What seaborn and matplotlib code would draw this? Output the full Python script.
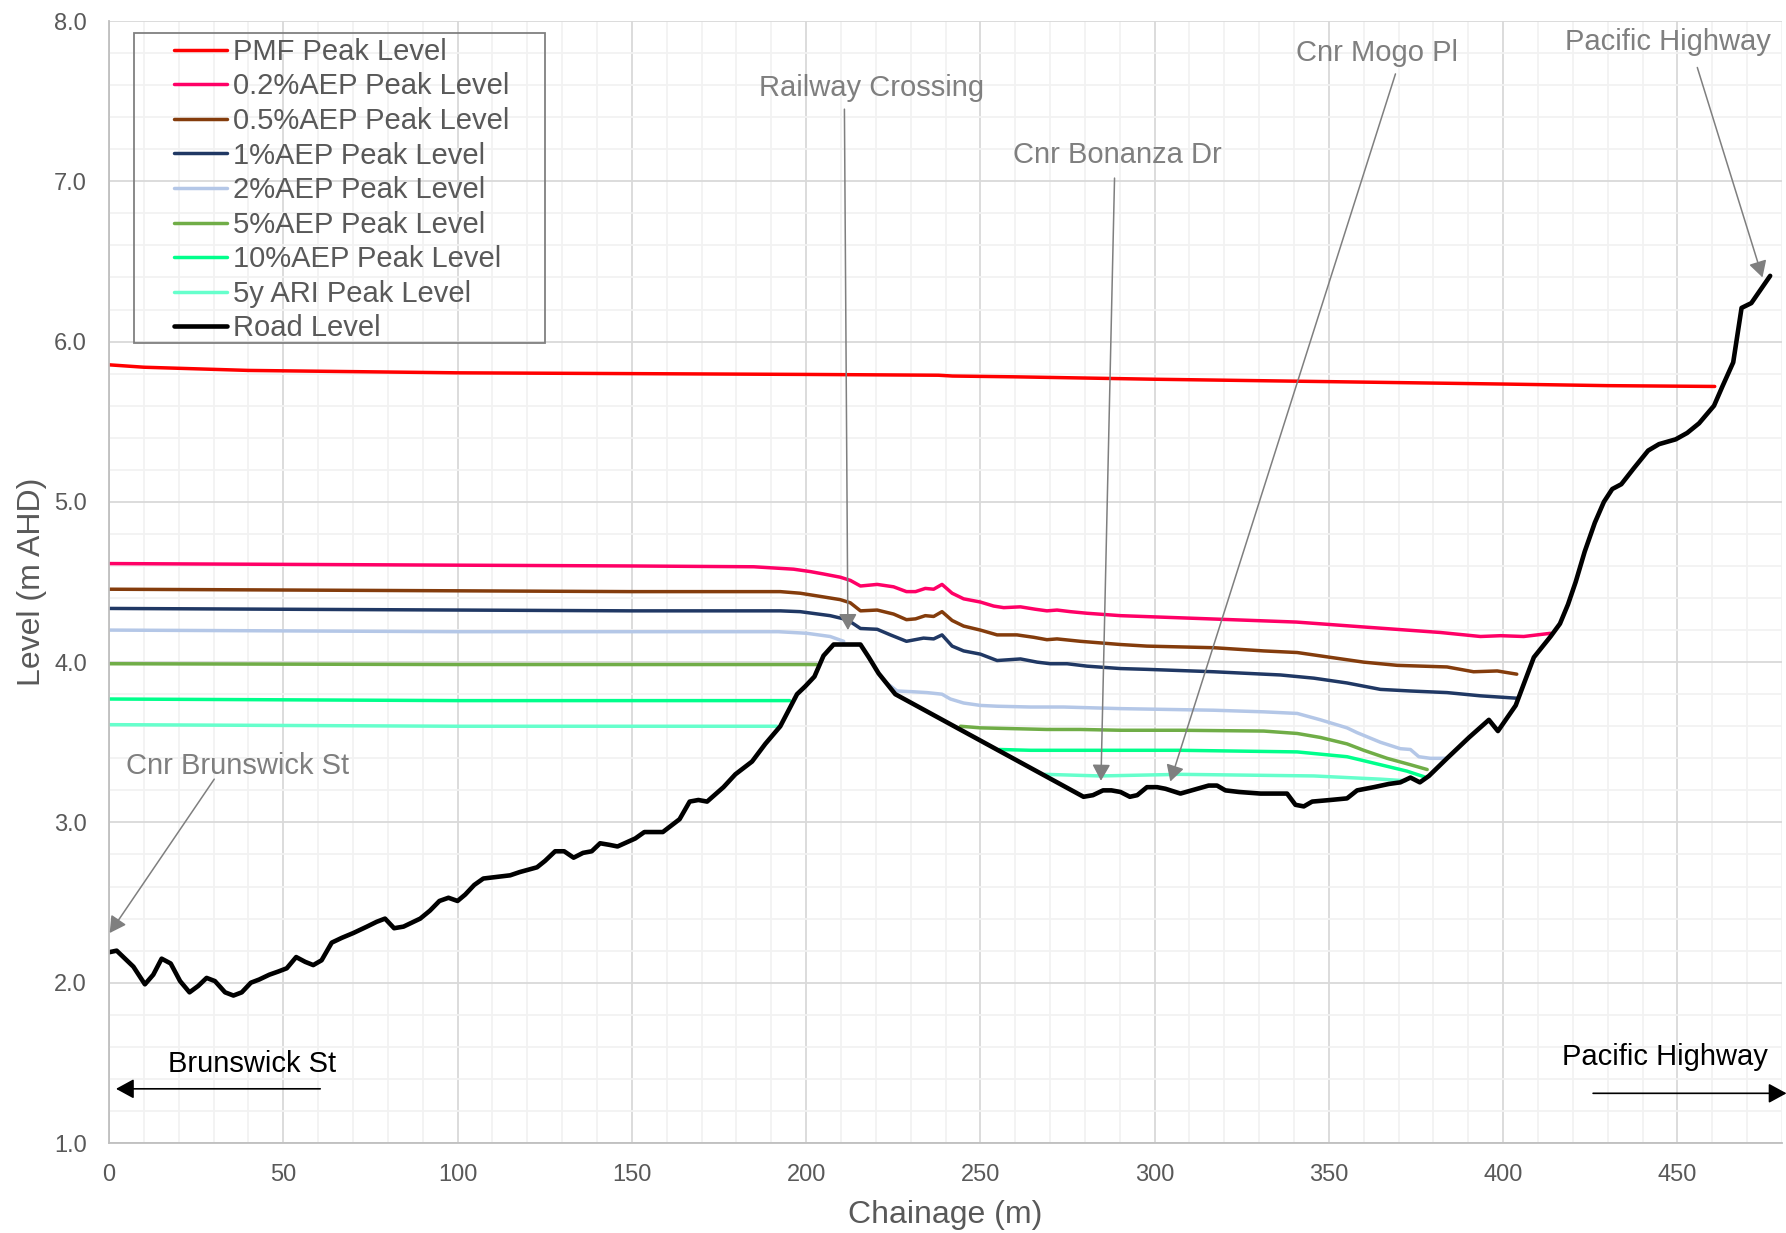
import numpy as np
import matplotlib
matplotlib.use("Agg")
import matplotlib.pyplot as plt
import seaborn as sns
from matplotlib.ticker import MultipleLocator, FormatStrFormatter
from matplotlib.patches import Rectangle

pmf_x = [0, 10, 25, 40, 60, 100, 150, 200, 238, 242, 260, 300, 350, 400, 430, 460.7]
pmf_y = [5.855, 5.84, 5.83, 5.82, 5.815, 5.805, 5.80, 5.795, 5.79, 5.785, 5.78, 5.765, 5.75, 5.735, 5.725, 5.72]

aep02_x = [0, 50, 100, 150, 185, 192.6, 196.4, 201.2, 205.0, 209.8, 212.7, 215.6, 220.4, 225.1, 228.8, 231.4,
           234.2, 236.6, 239.0, 241.9, 245.2, 250.0, 253.8, 256.7, 261.5, 265.8, 269.1, 272.0, 275.8, 280.6,
           290.2, 315.7, 340.7, 359.6, 382, 393.5, 399.3, 405.9, 413.6]
aep02_y = [4.615, 4.61, 4.605, 4.60, 4.595, 4.585, 4.58, 4.565, 4.55, 4.53, 4.51, 4.475, 4.485, 4.47, 4.44, 4.44,
           4.46, 4.455, 4.485, 4.43, 4.395, 4.375, 4.35, 4.34, 4.345, 4.33, 4.32, 4.325, 4.315, 4.305,
           4.29, 4.27, 4.25, 4.22, 4.185, 4.16, 4.165, 4.16, 4.18]

aep05_x = [0, 50, 100, 150, 185, 192.6, 198.3, 204.1, 209.8, 212.7, 215.6, 220.4, 225.1, 228.8, 231.4, 234.2,
           236.6, 239.0, 241.9, 245.2, 250.0, 254.8, 260.5, 265.3, 269.1, 272.0, 278.7, 290.2, 297.8, 317.0,
           331.3, 340.9, 350.4, 360.0, 369.6, 383.9, 391.5, 398.3, 403.9]
aep05_y = [4.455, 4.45, 4.445, 4.44, 4.44, 4.44, 4.43, 4.41, 4.39, 4.37, 4.32, 4.325, 4.30, 4.265, 4.27, 4.29,
           4.285, 4.315, 4.26, 4.225, 4.20, 4.17, 4.17, 4.155, 4.14, 4.145, 4.13, 4.11, 4.10, 4.09,
           4.07, 4.06, 4.03, 4.00, 3.98, 3.97, 3.94, 3.945, 3.925]

aep1_x = [0, 50, 100, 150, 185, 192.6, 198.3, 206.9, 210.8, 213.2, 215.6, 220.4, 224.2, 228.8, 233.7, 236.6,
          239.0, 241.9, 245.2, 250.0, 254.8, 261.5, 266.3, 270.1, 274.9, 280.6, 290.2, 297.8, 317.0, 336.1,
          345.7, 355.2, 364.8, 373.4, 383.9, 393.4, 403.9]
aep1_y = [4.335, 4.33, 4.325, 4.32, 4.32, 4.32, 4.315, 4.29, 4.27, 4.245, 4.21, 4.205, 4.17, 4.13, 4.15, 4.145,
          4.17, 4.10, 4.07, 4.05, 4.01, 4.02, 4.00, 3.99, 3.99, 3.975, 3.96, 3.955, 3.94, 3.92,
          3.90, 3.87, 3.83, 3.82, 3.81, 3.79, 3.775]

# les courbes plus basses sont coupees par la bosse de la voie ferree
aep2_left_x = [0, 100, 192, 200.2, 206.9, 210.8]
aep2_left_y = [4.20, 4.19, 4.19, 4.18, 4.16, 4.13]
aep2_right_x = [222.5, 226.1, 230.9, 234.7, 239.0, 241.4, 245.2, 250.0, 254.8, 264.4, 273.9, 290.2, 317, 331.3,
                340.9, 347.6, 355.2, 358.1, 364.8, 370.5, 373.4, 375.8, 379.1, 383.4]
aep2_right_y = [3.88, 3.82, 3.815, 3.81, 3.80, 3.77, 3.745, 3.73, 3.725, 3.72, 3.72, 3.71, 3.70, 3.69,
                3.68, 3.64, 3.59, 3.56, 3.50, 3.46, 3.455, 3.41, 3.40, 3.40]

aep5_left_x = [0, 100, 203]
aep5_left_y = [3.99, 3.985, 3.985]
aep5_right_x = [244.3, 250, 259.6, 269.1, 278.7, 290.2, 307.4, 331.3, 340.9, 347.6, 355.2, 360, 366.7, 373.4, 378.2]
aep5_right_y = [3.60, 3.59, 3.585, 3.58, 3.58, 3.575, 3.575, 3.57, 3.555, 3.53, 3.49, 3.45, 3.40, 3.36, 3.33]

aep10_left_x = [0, 100, 195.3]
aep10_left_y = [3.77, 3.76, 3.76]
aep10_right_x = [255.5, 264.4, 273.9, 290.2, 307.4, 340.9, 350.4, 355.2, 360, 366.7, 372.4, 377.3]
aep10_right_y = [3.455, 3.45, 3.45, 3.45, 3.45, 3.44, 3.42, 3.41, 3.385, 3.35, 3.32, 3.285]

ari5_left_x = [0, 100, 191.6]
ari5_left_y = [3.61, 3.60, 3.60]
ari5_right_x = [268.5, 284.4, 307.4, 345.7, 355.2, 364.8, 372]
ari5_right_y = [3.30, 3.29, 3.30, 3.29, 3.28, 3.27, 3.26]

road_x = [0, 2.2, 7.0, 10.3, 12.7, 15.1, 17.7, 20.4, 23.1, 25.6, 28.0, 30.4, 33.3, 35.7, 38.1, 40.7, 43.1, 46.0,
          48.6, 51.0, 53.7, 56.3, 58.6, 61.0, 63.9, 66.8, 70.1, 74.0, 76.8, 79.2, 81.8, 84.5, 89.3, 92.1, 94.8,
          97.4, 100.0, 102.2, 104.8, 107.4, 111.3, 115.1, 117.8, 122.8, 125.1, 128.0, 130.6, 133.3, 136.0,
          138.5, 140.9, 143.6, 145.9, 151.0, 153.6, 156.2, 158.9, 163.7, 166.6, 169.1, 171.6, 176.3, 179.7,
          184.5, 188.3, 192.6, 197.4, 199.8, 202.4, 205.0, 207.9, 215.6, 218.0, 220.8, 225.6, 279.6, 282.3,
          285.2, 287.6, 290.2, 292.9, 295.0, 297.8, 300.7, 303.1, 307.4, 312.2, 315.5, 317.9, 320.3, 324.2,
          330.4, 334.2, 338.0, 340.4, 342.8, 345.2, 350.4, 355.2, 358.1, 362.9, 367.2, 370.5, 373.4, 376.1,
          378.7, 383.9, 390.2, 395.9, 398.5, 403.6, 408.8, 413.6, 416.3, 418.6, 420.8, 423.4, 426.3, 428.9,
          431.3, 433.9, 437.5, 441.6, 444.7, 449.5, 452.8, 456.2, 460.5, 462.9, 466.0, 468.4, 471.2, 476.6]
road_y = [2.19, 2.20, 2.10, 1.99, 2.05, 2.15, 2.12, 2.01, 1.94, 1.98, 2.03, 2.01, 1.94, 1.92, 1.94, 2.00, 2.02, 2.05,
          2.07, 2.09, 2.16, 2.13, 2.11, 2.14, 2.25, 2.28, 2.31, 2.35, 2.38, 2.40, 2.34, 2.35, 2.40, 2.45, 2.51,
          2.53, 2.51, 2.55, 2.61, 2.65, 2.66, 2.67, 2.69, 2.72, 2.76, 2.82, 2.82, 2.78, 2.81,
          2.82, 2.87, 2.86, 2.85, 2.90, 2.94, 2.94, 2.94, 3.02, 3.13, 3.14, 3.13, 3.22, 3.30,
          3.38, 3.49, 3.60, 3.80, 3.85, 3.91, 4.04, 4.11, 4.11, 4.03, 3.93, 3.80, 3.16, 3.17,
          3.20, 3.20, 3.19, 3.16, 3.17, 3.22, 3.22, 3.21, 3.18, 3.21, 3.23, 3.23, 3.20, 3.19,
          3.18, 3.18, 3.18, 3.11, 3.10, 3.13, 3.14, 3.15, 3.20, 3.22, 3.24, 3.25, 3.28, 3.25,
          3.29, 3.40, 3.53, 3.64, 3.57, 3.73, 4.03, 4.16, 4.24, 4.36, 4.50, 4.69, 4.87, 5.00,
          5.08, 5.11, 5.21, 5.32, 5.36, 5.39, 5.43, 5.49, 5.60, 5.72, 5.87, 6.21, 6.24, 6.41]

W, H = 1786, 1233
grey_txt = '#595959'
grey_ann = '#7f7f7f'

sns.set_theme(style="white")
plt.rcParams['font.family'] = ['Liberation Sans', 'DejaVu Sans']

fig = plt.figure(figsize=(W / 100, H / 100), dpi=100)
ax = fig.add_axes([109 / W, 1 - 1143 / H, (1782 - 109) / W, (1143 - 21) / H])

lw_peak = 2.5
series = [
    ('PMF Peak Level', '#ff0000', [(pmf_x, pmf_y)]),
    ('0.2%AEP Peak Level', '#ff0066', [(aep02_x, aep02_y)]),
    ('0.5%AEP Peak Level', '#843c0c', [(aep05_x, aep05_y)]),
    ('1%AEP Peak Level', '#203864', [(aep1_x, aep1_y)]),
    ('2%AEP Peak Level', '#b4c7e7', [(aep2_left_x, aep2_left_y), (aep2_right_x, aep2_right_y)]),
    ('5%AEP Peak Level', '#70ad47', [(aep5_left_x, aep5_left_y), (aep5_right_x, aep5_right_y)]),
    ('10%AEP Peak Level', '#00ff8c', [(aep10_left_x, aep10_left_y), (aep10_right_x, aep10_right_y)]),
    ('5y ARI Peak Level', '#66ffcc', [(ari5_left_x, ari5_left_y), (ari5_right_x, ari5_right_y)]),
]
for name, col, parts in series:
    for i, (xs, ys) in enumerate(parts):
        kw = {'label': name} if i == 0 else {}
        sns.lineplot(x=xs, y=ys, color=col, lw=lw_peak, estimator=None, sort=False,
                     legend=False, ax=ax, **kw)
sns.lineplot(x=road_x, y=road_y, color='black', lw=3.3, estimator=None, sort=False,
             legend=False, ax=ax, label='Road Level')

ax.set_xlim(0, 480)
ax.set_ylim(1.0, 8.0)
ax.xaxis.set_major_locator(MultipleLocator(50))
ax.xaxis.set_minor_locator(MultipleLocator(10))
ax.yaxis.set_major_locator(MultipleLocator(1.0))
ax.yaxis.set_minor_locator(MultipleLocator(0.2))
ax.yaxis.set_major_formatter(FormatStrFormatter('%.1f'))
ax.grid(which='major', color='#d9d9d9', lw=1.3)
ax.grid(which='minor', color='#f2f2f2', lw=1.3)
ax.set_axisbelow(True)
ax.tick_params(which='both', length=0, labelsize=17, labelcolor=grey_txt)
ax.tick_params(axis='y', pad=16)
ax.tick_params(axis='x', pad=15)
for s in ['top', 'right']:
    ax.spines[s].set_visible(False)
for s in ['left', 'bottom']:
    ax.spines[s].set_color('#bfbfbf')
    ax.spines[s].set_linewidth(1.3)
ax.set_xlabel('Chainage (m)', fontsize=23, color=grey_txt, labelpad=10)
ax.set_ylabel('Level (m AHD)', fontsize=23, color=grey_txt, labelpad=5)

# legende
handles, labels = ax.get_legend_handles_labels()
leg = ax.legend(handles, labels, loc='upper left', bbox_to_anchor=(134 / W, 1 - 35 / H),
                bbox_transform=fig.transFigure, frameon=False, fontsize=21, borderpad=0.1,
                labelspacing=0.225, handlelength=3.1, handletextpad=0.19, borderaxespad=0)
for t in leg.get_texts():
    t.set_color(grey_txt)
for ln in leg.get_lines():
    xd = np.asarray(ln.get_xdata(), dtype=float)
    x0, x1 = xd[0], xd[-1]
    ln.set_xdata(np.linspace(x0 + 0.41 * (x1 - x0), x1, len(xd)))
fig.patches.append(Rectangle((134 / W, 1 - 343 / H), (545 - 134) / W, (343 - 33) / H,
                             transform=fig.transFigure, fill=False, edgecolor='#808080', lw=1.3))

# annotations grises
arrow_grey = dict(arrowstyle='-|>,head_length=0.45,head_width=0.25', color=grey_ann, lw=1.1,
                  mutation_scale=22, shrinkA=0, shrinkB=0)
notes = [
    ('Railway Crossing', (218.8, 7.58), (211, 7.45), (212, 4.20)),
    ('Cnr Bonanza Dr', (289.4, 7.165), (288.5, 7.02), (284.6, 3.26)),
    ('Cnr Mogo Pl', (363.7, 7.80), (369.1, 7.67), (304.5, 3.255)),
    ('Pacific Highway', (447.2, 7.867), (455.7, 7.71), (474.4, 6.40)),
    ('Cnr Brunswick St', (36.9, 3.35), (30.2, 3.27), (0.2, 2.31)),
]
for txt, pos, tail, tip in notes:
    ax.text(pos[0], pos[1], txt, fontsize=21, color=grey_ann, ha='center', va='center')
    ax.annotate('', xy=tip, xytext=tail, arrowprops=arrow_grey, annotation_clip=False)

# directions
arrow_blk = dict(arrowstyle='-|>,head_length=0.55,head_width=0.3', color='black', lw=1.2,
                 mutation_scale=20, shrinkA=0, shrinkB=0)
ax.text(41.0, 1.495, 'Brunswick St', fontsize=21, color='black', ha='center', va='center')
ax.annotate('', xy=(2.0, 1.338), xytext=(60.6, 1.338), arrowprops=arrow_blk, annotation_clip=False)
ax.text(446.5, 1.535, 'Pacific Highway', fontsize=21, color='black', ha='center', va='center')
ax.annotate('', xy=(481.3, 1.31), xytext=(425.8, 1.31), arrowprops=arrow_blk, annotation_clip=False)

fig.savefig('out.png', dpi=100)
